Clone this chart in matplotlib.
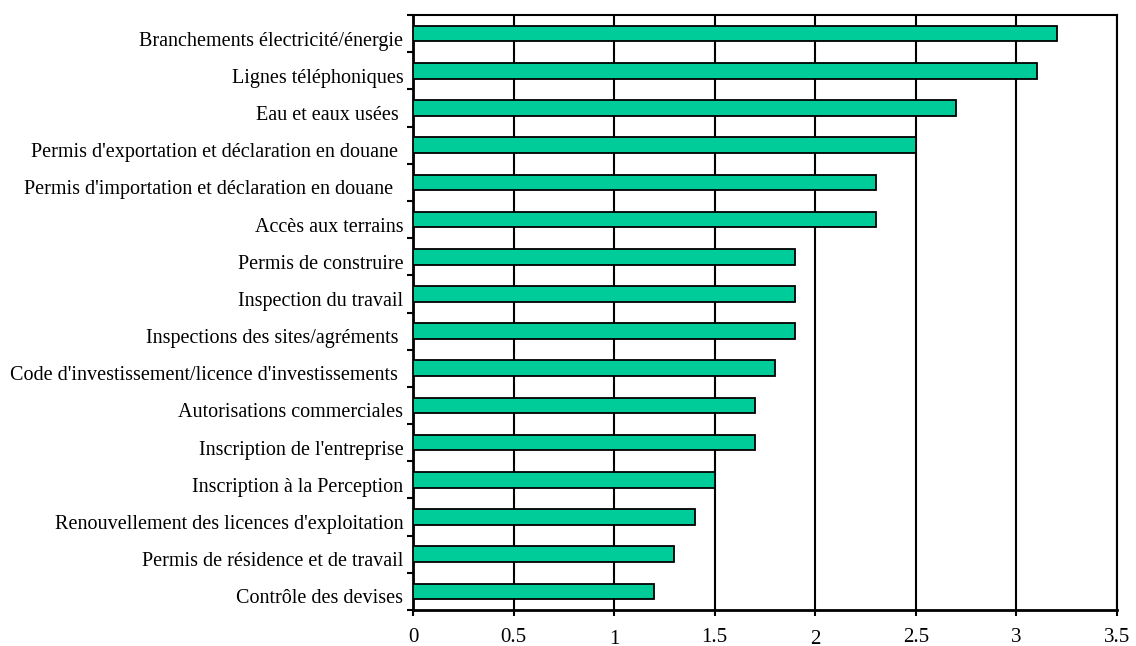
import matplotlib
matplotlib.use("Agg")
import matplotlib.pyplot as plt
import matplotlib.transforms as mtransforms
import numpy as np

categories = [
    "Branchements électricité/énergie",
    "Lignes téléphoniques",
    "Eau et eaux usées ",
    "Permis d'exportation et déclaration en douane ",
    "Permis d'importation et déclaration en douane  ",
    "Accès aux terrains",
    "Permis de construire",
    "Inspection du travail",
    "Inspections des sites/agréments ",
    "Code d'investissement/licence d'investissements ",
    "Autorisations commerciales",
    "Inscription de l'entreprise",
    "Inscription à la Perception",
    "Renouvellement des licences d'exploitation",
    "Permis de résidence et de travail",
    "Contrôle des devises",
]
values = [3.2, 3.1, 2.7, 2.5, 2.3, 2.3, 1.9, 1.9, 1.9, 1.8, 1.7, 1.7, 1.5, 1.4, 1.3, 1.2]
x_ticks = [0, 0.5, 1, 1.5, 2, 2.5, 3, 3.5]
x_tick_labels = ["0", "0.5", "1", "1.5", "2", "2.5", "3", "3.5"]

plt.rcParams["font.family"] = ["Liberation Serif", "DejaVu Serif"]

fig = plt.figure(figsize=(11.36, 6.46), dpi=100)
ax = fig.add_axes([413 / 1136, 1 - 610 / 646, (1117 - 413) / 1136, (610 - 15) / 646])

n = len(categories)
ypos = np.arange(n)[::-1]
ax.barh(ypos, values, height=0.42, color="#00CC99", edgecolor="black",
        linewidth=1.3, zorder=3)

ax.set_xlim(0, 3.5)
ax.set_ylim(-0.5, n - 0.5)

# vertical grid lines and value axis
ax.set_xticks(x_ticks)
ax.set_xticklabels(x_tick_labels, fontsize=15)
ax.xaxis.grid(True, color="black", linewidth=1.5, zorder=1)
ax.set_axisbelow(True)
ax.tick_params(axis="x", direction="out", length=4, width=1.5, pad=9)
for lbl in ax.get_xticklabels():
    if lbl.get_text() in ("1", "2"):
        lbl.set_transform(lbl.get_transform() +
                          mtransforms.ScaledTranslation(0, -2 / 100, fig.dpi_scale_trans))

# category labels at bar centres, tick marks at category boundaries
ax.set_yticks(ypos)
ax.set_yticklabels(categories, fontsize=14.5)
ax.tick_params(axis="y", which="major", length=0, pad=7)
ax.set_yticks(np.arange(-0.5, n, 1.0), minor=True)
ax.tick_params(axis="y", which="minor", direction="out", length=4, width=1.5)

down = mtransforms.ScaledTranslation(0, -12 / 100, fig.dpi_scale_trans)
for lbl in ax.yaxis.get_majorticklabels():
    lbl.set_verticalalignment("baseline")
    lbl.set_transform(lbl.get_transform() + down)

for side in ["left", "bottom"]:
    ax.spines[side].set_linewidth(2)
for side in ["top", "right"]:
    ax.spines[side].set_linewidth(1.5)

fig.savefig("out.png", dpi=100)
